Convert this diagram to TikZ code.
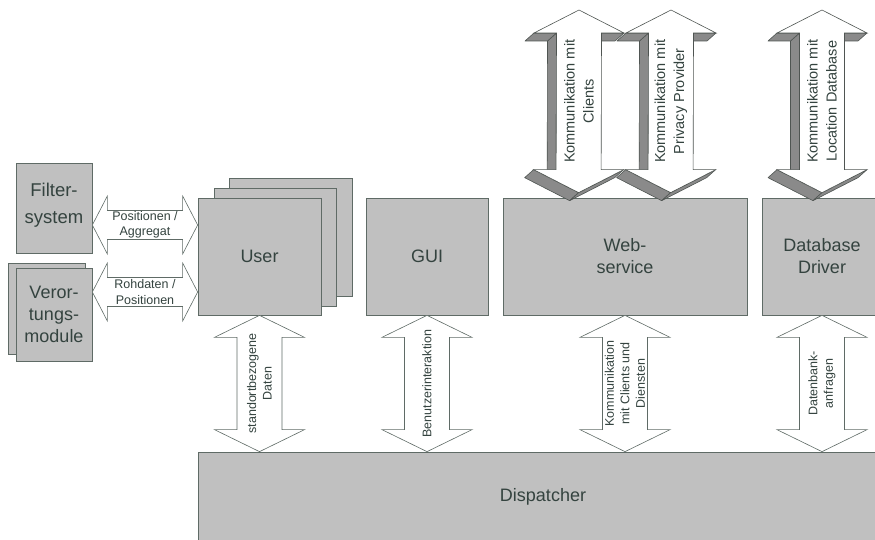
\documentclass[tikz,border=0pt]{standalone}
\usepackage{fontspec}
\setmainfont{Liberation Sans}
\usetikzlibrary{calc}

\definecolor{boxfill}{HTML}{C0C0C0}
\definecolor{boxline}{HTML}{5F6B66}
\definecolor{ink}{HTML}{34433F}
\definecolor{sidegrey}{HTML}{8A8A8A}
\definecolor{edgegrey}{HTML}{4F5552}

\tikzset{
  block/.style={draw=boxline, fill=boxfill, line width=0.7pt, inner sep=0pt,
    text=ink, font=\fontsize{18}{22}\selectfont, align=center},
  flatarrow/.style={draw=boxline, fill=white, line width=0.6pt},
  face/.style={draw=edgegrey, fill=white, line width=0.6pt},
  side/.style={draw=edgegrey, fill=sidegrey, line width=0.6pt, line join=round},
  smalllabel/.style={text=ink, font=\fontsize{12.5}{15.5}\selectfont, align=center, inner sep=0pt},
  biglabel/.style={text=ink, font=\fontsize{14.5}{19}\selectfont, align=center, inner sep=0pt},
}

% flat vertical double arrow: upper tip, lower tip, label name, text
\newcommand\vflat[4]{%
  \draw[flatarrow] (#1) -- ($(#1)+(45,22)$) -- ($(#1)+(22.5,22)$)
    -- ($(#2)+(22.5,-22)$) -- ($(#2)+(45,-22)$) -- (#2)
    -- ($(#2)+(-45,-22)$) -- ($(#2)+(-22.5,-22)$)
    -- ($(#1)+(-22.5,22)$) -- ($(#1)+(-45,22)$) -- cycle;
  \node[smalllabel, rotate=90] (#3) at ($(#1)!.5!(#2)$) {#4};
}

% flat horizontal double arrow: left tip, right tip, label name, text
\newcommand\hflat[4]{%
  \draw[flatarrow] (#1) -- ($(#1)+(15,-29)$) -- ($(#1)+(15,-14.5)$)
    -- ($(#2)+(-15,-14.5)$) -- ($(#2)+(-15,-29)$) -- (#2)
    -- ($(#2)+(-15,29)$) -- ($(#2)+(-15,14.5)$)
    -- ($(#1)+(15,14.5)$) -- ($(#1)+(15,29)$) -- cycle;
  \node[smalllabel] (#3) at ($(#1)!.5!(#2)$) {#4};
}

% extruded vertical double arrow: top tip, bottom tip, label name, text
\newcommand\solidarrow[4]{%
  \coordinate (tl)  at ($(#1)+(-45,23)$);
  \coordinate (tsl) at ($(#1)+(-22.5,23)$);
  \coordinate (tsr) at ($(#1)+(22.5,23)$);
  \coordinate (tr)  at ($(#1)+(45,23)$);
  \coordinate (bl)  at ($(#2)+(-45,-23)$);
  \coordinate (bsl) at ($(#2)+(-22.5,-23)$);
  \coordinate (bsr) at ($(#2)+(22.5,-23)$);
  \coordinate (br)  at ($(#2)+(45,-23)$);
  % visible side faces, pushed back towards the lower left
  \draw[side] (tsl) -- (bsl) -- ($(bsl)+(-9,8)$) -- ($(tsl)+(-9,8)$) -- cycle;
  \draw[side] (tl) -- (tsl) -- ($(tsl)+(-9,8)$) -- ($(tl)+(-9,8)$) -- cycle;
  \draw[side] (tsr) -- (tr) -- ($(tr)+(-9,8)$) -- ($(tsr)+(-9,8)$) -- cycle;
  \draw[side] (bl) -- (#2) -- ($(#2)+(-9,8)$) -- ($(bl)+(-9,8)$) -- cycle;
  \draw[side] (#2) -- (br) -- ($(br)+(-9,8)$) -- ($(#2)+(-9,8)$) -- cycle;
  % front face
  \draw[face] (#1) -- (tr) -- (tsr) -- (bsr) -- (br) -- (#2) -- (bl) -- (bsl)
    -- (tsl) -- (tl) -- cycle;
  \node[biglabel, rotate=90] (#3) at ($(#1)!.5!(#2)$) {#4};
}

\begin{document}
\begin{tikzpicture}[x=1pt, y=-1pt]
\useasboundingbox (0,0) rectangle (875,540);
\clip (0,0) rectangle (875,540);

% modules on the left
\node[block, minimum width=76pt, minimum height=90pt] (filter) at (54,208) {};
\node[text=ink, font=\fontsize{18.5}{27}\selectfont, align=center, inner sep=0pt]
  (filtertext) at (54,205) {Filter-\\system};
\node[block, minimum width=77pt, minimum height=91pt] (locback) at (46.5,308.5) {};
\node[block, minimum width=76pt, minimum height=93pt] (loc) at (54,314.5) {Veror-\\tungs-\\module};

% stacked user boxes
\node[block, minimum width=123pt, minimum height=118pt] (userback2) at (290.5,237) {};
\node[block, minimum width=122pt, minimum height=118pt] (userback1) at (275,247) {};
\node[block, minimum width=123pt, minimum height=117pt] (user) at (259.5,256.5) {User};

% components
\node[block, minimum width=122pt, minimum height=117pt] (gui) at (427,256.5) {GUI};
\node[block, minimum width=244pt, minimum height=117pt] (web) at (625,256.5) {Web-\\service};
\node[block, minimum width=120pt, minimum height=117pt] (db) at (822,256.5) {Database\\Driver};
\node[block, minimum width=690pt, minimum height=90pt] (disp) at (543,497) {Dispatcher};

% rows of the horizontal arrows
\coordinate (rowa) at (0,225);
\coordinate (rowb) at (0,292);
\hflat{filter.east |- rowa}{user.west |- rowa}{lblpos}{Positionen /\\Aggregat}
\hflat{loc.east |- rowb}{user.west |- rowb}{lblraw}{Rohdaten /\\Positionen}

% arrows down to the dispatcher
\vflat{user.south}{user.south |- disp.north}{lbluser}{standortbezogene\\Daten}
\vflat{gui.south}{gui.south |- disp.north}{lblgui}{Benutzerinteraktion}
\vflat{web.south}{web.south |- disp.north}{lblweb}{Kommunikation\\mit Clients und\\Diensten}
\vflat{db.south}{db.south |- disp.north}{lbldb}{Datenbank-\\anfragen}

% external communication on top
\coordinate (kca) at (579,10);
\coordinate (kcb) at ([xshift=76pt, yshift=5pt]web.north west);
\coordinate (kpa) at (671,10);
\coordinate (kpb) at ([xshift=168pt, yshift=5pt]web.north west);
\coordinate (kla) at (822,10);
\coordinate (klb) at ([yshift=5pt]db.north);
\solidarrow{kca}{kcb}{lblclients}{Kommunikation mit\\Clients}
\solidarrow{kpa}{kpb}{lblprivacy}{Kommunikation mit\\Privacy Provider}
\solidarrow{kla}{klb}{lbllocdb}{Kommunikation mit\\Location Database}
\end{tikzpicture}
\end{document}
